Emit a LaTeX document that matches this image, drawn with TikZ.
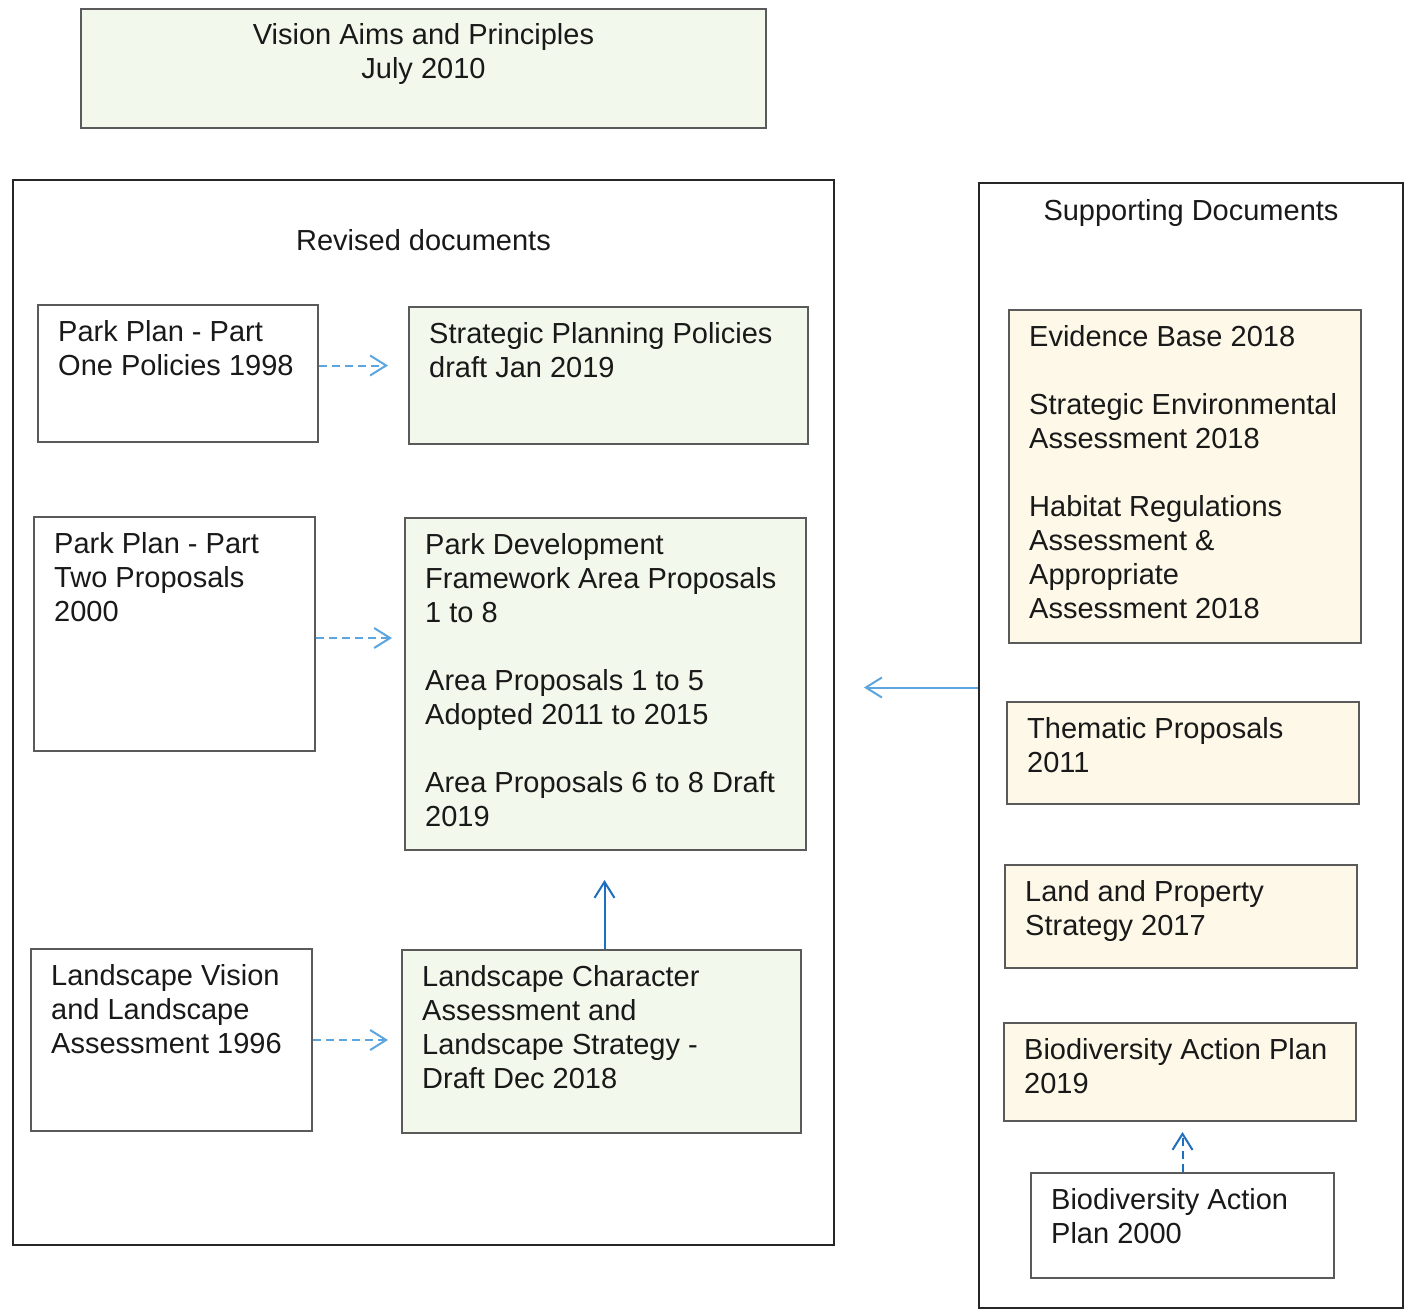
\documentclass[tikz,border=0pt]{standalone}
\usepackage{fontspec}
\setmainfont{Liberation Sans}
\usetikzlibrary{arrows.meta, positioning}
\definecolor{boxgreen}{HTML}{F3F8EC}
\definecolor{boxcream}{HTML}{FDF8E8}
\definecolor{linegray}{HTML}{5A5A5A}
\definecolor{arrowblue}{HTML}{5CA5DE}
\definecolor{darkblue}{HTML}{1F6FBE}
\tikzset{%
	docbox/.style = {
		rectangle, draw=linegray, line width=2pt,
		anchor=north west, inner sep=0pt
	},
	greenbox/.style = {docbox, fill=boxgreen},
	creambox/.style = {docbox, fill=boxcream},
	plainbox/.style = {docbox, fill=white},
	framebox/.style = {
		rectangle, draw=black!85, line width=2pt,
		anchor=north west, inner sep=0pt
	},
	doclabel/.style = {anchor=north west, inner sep=0pt, align=left, xshift=21pt, yshift=-16pt, text=black!90},
	titlelabel/.style = {anchor=north, inner sep=0pt, align=center, text=black!90},
	dasharrow/.style = {draw=arrowblue, line width=2pt, dash pattern=on 8pt off 5pt, -{Straight Barb[length=16pt,width=20pt]}},
	solidarrow/.style = {draw=darkblue, line width=2pt, -{Straight Barb[length=16pt,width=20pt]}}
}
\begin{document}
\begin{tikzpicture}[x=1pt, y=-1pt, every node/.style={font=\fontsize{29}{34}\selectfont}]
    \useasboundingbox (0,0) rectangle (1411,1309);
    % Top box
    \node (vision)   [greenbox, minimum width=685, minimum height=119, label={[titlelabel, yshift=-15pt]north:Vision Aims and Principles\\July 2010}] at (80,8) {};

    % Revised documents
    \node (revised)  [framebox, minimum width=821, minimum height=1065, label={[titlelabel, yshift=-50pt]north:Revised documents}] at (12,179) {};
    \node (pp1)      [plainbox, minimum width=280, minimum height=137, label={[doclabel]north west:Park Plan - Part\\One Policies 1998}] at (37,304) {};
    \node (sppol)    [greenbox, minimum width=399, minimum height=137, label={[doclabel]north west:Strategic Planning Policies\\draft Jan 2019}] at (408,306) {};
    \node (pp2)      [plainbox, minimum width=281, minimum height=234, label={[doclabel]north west:Park Plan - Part\\Two Proposals\\2000}] at (33,516) {};
    \node (pdf)      [greenbox, minimum width=401, minimum height=332, label={[doclabel]north west:Park Development\\Framework Area Proposals\\1 to 8\\[34pt]Area Proposals 1 to 5\\Adopted 2011 to 2015\\[34pt]Area Proposals 6 to 8 Draft\\2019}] at (404,517) {};
    \node (lv)       [plainbox, minimum width=281, minimum height=182, label={[doclabel]north west:Landscape Vision\\and Landscape\\Assessment 1996}] at (30,948) {};
    \node (lca)      [greenbox, minimum width=399, minimum height=183, label={[doclabel]north west:Landscape Character\\Assessment and\\Landscape Strategy -\\Draft Dec 2018}] at (401,949) {};

    % Supporting documents
    \node (supp)     [framebox, minimum width=424, minimum height=1125, label={[titlelabel, yshift=-17pt]north:Supporting Documents}] at (978,182) {};
    \node (evidence) [creambox, minimum width=352, minimum height=333, label={[doclabel]north west:Evidence Base 2018\\[34pt]Strategic Environmental\\Assessment 2018\\[34pt]Habitat Regulations\\Assessment \&\\Appropriate\\Assessment 2018}] at (1008,309) {};
    \node (thematic) [creambox, minimum width=352, minimum height=102, label={[doclabel]north west:Thematic Proposals\\2011}] at (1006,701) {};
    \node (land)     [creambox, minimum width=352, minimum height=103, label={[doclabel]north west:Land and Property\\Strategy 2017}] at (1004,864) {};
    \node (bap19)    [creambox, minimum width=352, minimum height=98, label={[doclabel]north west:Biodiversity Action Plan\\2019}] at (1003,1022) {};
    \node (bap00)    [plainbox, minimum width=303, minimum height=105, label={[doclabel]north west:Biodiversity Action\\Plan 2000}] at (1030,1172) {};

    % Connectors
    \draw[dasharrow, shorten >=20pt] ([yshift=8pt]pp1.east) -- ([yshift=8pt]pp1.east -| sppol.west);
    \draw[dasharrow, shorten >=12pt] ([yshift=-4pt]pp2.east) -- ([yshift=-4pt]pp2.east -| pdf.west);
    \draw[dasharrow, shorten >=13pt] (lv.east) -- (lv.east -| lca.west);
    \draw[solidarrow, shorten >=29pt] ([xshift=3pt]lca.north) -- ([xshift=3pt]lca.north |- pdf.south);
    \draw[solidarrow, draw=arrowblue, shorten >=57pt] ([yshift=58pt]supp.west) -- ([yshift=58pt]supp.west -| pdf.east);
    \draw[dasharrow, draw=darkblue, shorten >=10pt] (bap00.north) -- (bap00.north |- bap19.south);

\end{tikzpicture}
\end{document}
